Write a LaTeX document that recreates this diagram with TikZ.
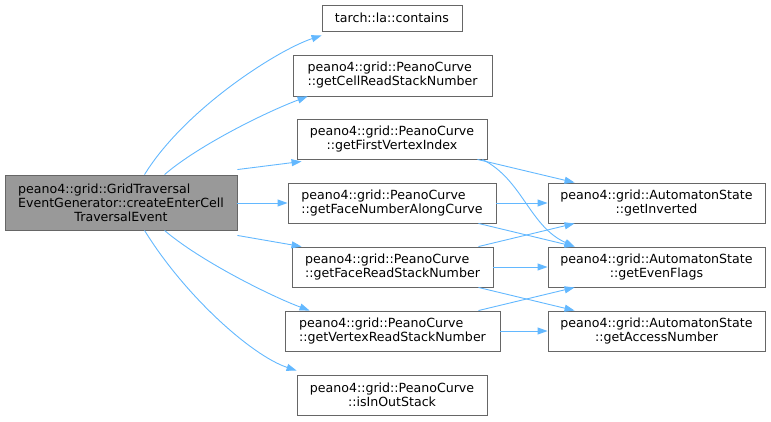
\documentclass[tikz,border=0pt]{standalone}
\usepackage{fontspec}
\usepackage{calc}
\setmainfont{DejaVu Sans}
\usetikzlibrary{arrows.meta}
\definecolor{edgeblue}{HTML}{63B8FF}
\definecolor{boxborder}{HTML}{666666}
\definecolor{mainfill}{HTML}{999999}
\begin{document}
\begin{tikzpicture}[x=1pt,y=-1pt,
  box/.style={draw=boxborder,line width=0.9pt,fill=white,rectangle,inner sep=0pt,align=center,font=\fontsize{12.6}{14}\selectfont},
  lbox/.style={box,align=left},
  mainbox/.style={box,fill=mainfill,align=left},
  edge/.style={draw=edgeblue,line width=0.9pt,-{Triangle[length=10pt,width=7pt]}}]
\useasboundingbox (0,0) rectangle (771,421);
\node[mainbox,minimum width=232pt,minimum height=55pt] (main) at (121,202.5) {peano4::grid::GridTraversal\\EventGenerator::createEnterCell\\\makebox[\widthof{EventGenerator::createEnterCell}][c]{TraversalEvent}};
\node[box,minimum width=140pt,minimum height=26pt] (contains) at (392,18) {tarch::la::contains};
\node[lbox,minimum width=199pt,minimum height=41pt] (cell) at (392.5,75.5) {peano4::grid::PeanoCurve\\::getCellReadStackNumber};
\node[box,minimum width=190pt,minimum height=40pt] (first) at (392,139) {peano4::grid::PeanoCurve\\::getFirstVertexIndex};
\node[lbox,minimum width=208pt,minimum height=40pt] (facenum) at (392,203) {peano4::grid::PeanoCurve\\::getFaceNumberAlongCurve};
\node[lbox,minimum width=201pt,minimum height=40pt] (facer) at (392.5,267) {peano4::grid::PeanoCurve\\::getFaceReadStackNumber};
\node[lbox,minimum width=215pt,minimum height=40pt] (vert) at (392.5,331) {peano4::grid::PeanoCurve\\::getVertexReadStackNumber};
\node[box,minimum width=190pt,minimum height=40pt] (inout) at (392,395) {peano4::grid::PeanoCurve\\::isInOutStack};
\node[box,minimum width=217pt,minimum height=40pt] (inv) at (656.5,203) {peano4::grid::AutomatonState\\::getInverted};
\node[box,minimum width=217pt,minimum height=40pt] (even) at (656.5,267) {peano4::grid::AutomatonState\\::getEvenFlags};
\node[box,minimum width=217pt,minimum height=40pt] (access) at (656.5,331) {peano4::grid::AutomatonState\\::getAccessNumber};
% edges from main
\draw[edge] ([xshift=140pt]main.north west) .. controls +(40,-65) and +(-45,15) .. ([yshift=-4pt]contains.south west);
\draw[edge] ([xshift=160pt]main.north west) .. controls +(35,-30) and +(-40,15) .. ([xshift=15pt]cell.south west);
\draw[edge] ([yshift=5pt]main.north east) -- ([xshift=5pt,yshift=-2pt]first.south west);
\draw[edge] (main.east |- facenum.west) -- (facenum.west);
\draw[edge] ([yshift=-5pt]main.south east) -- ([xshift=10pt]facer.north west);
\draw[edge] ([xshift=160pt]main.south west) .. controls +(35,30) and +(-40,-15) .. ([xshift=25pt]vert.north west);
\draw[edge] ([xshift=140pt]main.south west) .. controls +(40,65) and +(-45,-15) .. ([yshift=4pt]inout.north west);
% edges to right
\draw[edge] ([xshift=-10pt]first.south east) -- ([xshift=27pt]inv.north west);
\draw[edge] ([xshift=-5pt]first.south east) .. controls +(40,20) and +(-45,-20) .. ([xshift=27pt]even.north west);
\draw[edge] (facenum.east) -- (inv.west);
\draw[edge] ([xshift=-18pt]facenum.south east) -- ([xshift=27pt]even.north west);
\draw[edge] ([xshift=-15pt]facer.north east) -- ([xshift=27pt]inv.south west);
\draw[edge] (facer.east) -- (facer.east -| even.west);
\draw[edge] ([xshift=-15pt]facer.south east) -- ([xshift=27pt]access.north west);
\draw[edge] ([xshift=-22pt]vert.north east) -- ([xshift=27pt]even.south west);
\draw[edge] (vert.east) -- (vert.east -| access.west);
\end{tikzpicture}
\end{document}
